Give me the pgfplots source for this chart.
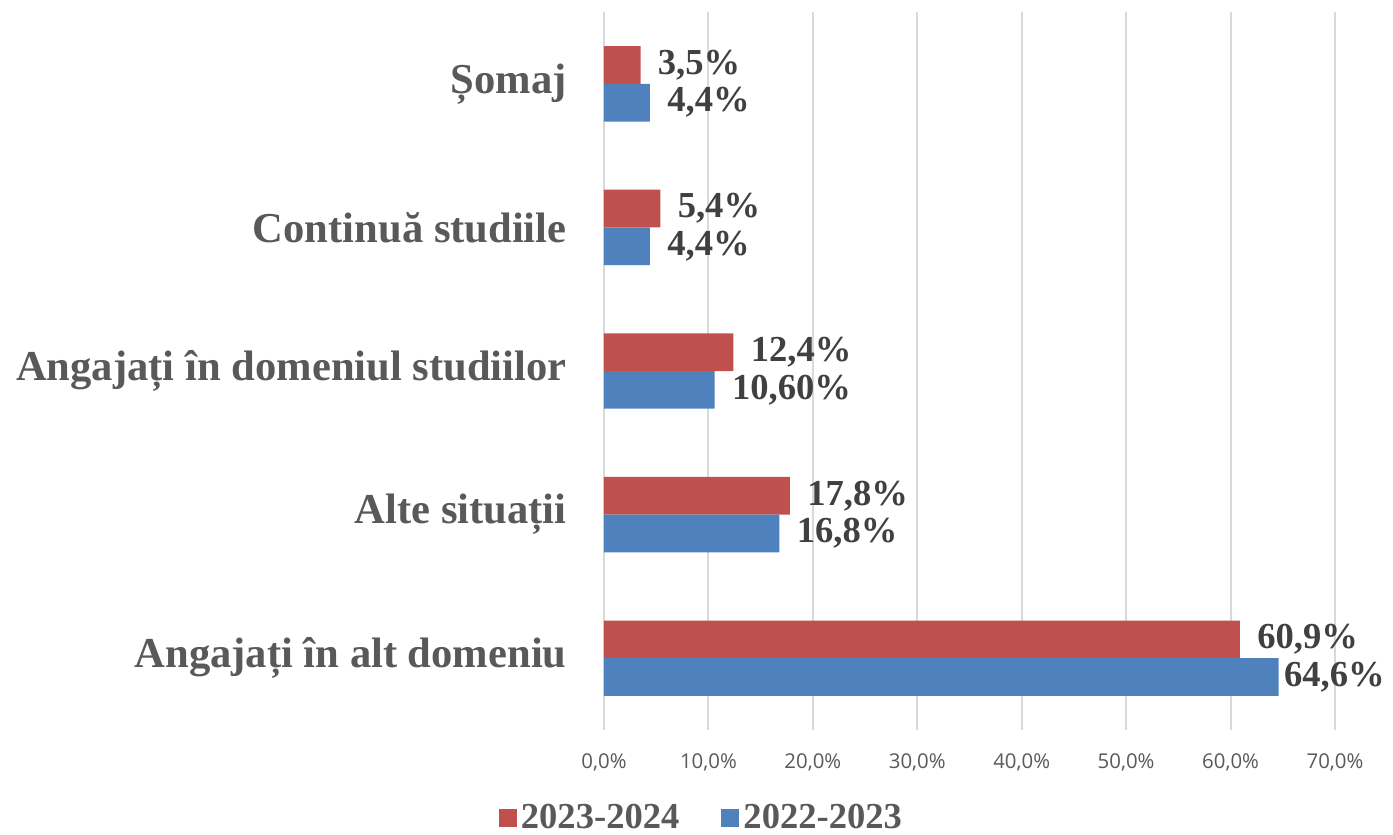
\documentclass[border=0pt]{standalone}
\usepackage{pgfplots}
\pgfplotsset{compat=1.18}
\usepackage{pgfplotstable}
\usepackage{fontspec}
\setmainfont{Liberation Serif}
\newfontfamily\tickfont{Open Sans}
\definecolor{cred}{HTML}{C0504D}
\definecolor{cblue}{HTML}{4F81BD}
\definecolor{gridc}{HTML}{D9D9D9}
\definecolor{lbl}{HTML}{404040}
\definecolor{cat}{HTML}{595959}

\pgfplotstableread{
y x dx label
0 60.9 8.5 60,9
1 17.8 8.5 17,8
2 12.4 8.5 12,4
3 5.4 8.5 5,4
4 3.5 8.5 3,5
}\redtable
\pgfplotstableread{
y x dx label
0 64.6 2.5 64,6
1 16.8 8.5 16,8
2 10.6 8.5 10,60
3 4.4 8.5 4,4
4 4.4 8.5 4,4
}\bluetable

\begin{document}
\begin{tikzpicture}
\path[use as bounding box] (-302pt,-52.5pt) rectangle (394.5pt,365pt);
\begin{axis}[
  at={(0pt,0pt)}, anchor=south west,
  scale only axis, width=365.5pt, height=359pt,
  xmin=0, xmax=70, ymin=-0.5, ymax=4.5,
  axis line style={draw=none},
  xmajorgrids, major grid style={gridc, line width=1pt},
  xtick={0,10,20,30,40,50,60,70},
  xticklabels={{0,0\%},{10,0\%},{20,0\%},{30,0\%},{40,0\%},{50,0\%},{60,0\%},{70,0\%}},
  ytick={0,1,2,3,4},
  yticklabels={Angajați în alt domeniu, Alte situații, Angajați în domeniul studiilor, Continuă studiile, Șomaj\hspace{0.25em}},
  major tick length=0pt,
  xticklabel style={font=\tickfont\fontsize{10.2pt}{12pt}\selectfont, text=cat, anchor=center, yshift=-16pt},
  yticklabel style={font=\fontsize{21.3pt}{25pt}\selectfont\bfseries, text=cat, anchor=east, inner sep=0pt, xshift=-18.5pt},
  clip=false,
  legend columns=2,
  legend style={at={(0.1347,-0.1226)}, anchor=center, draw=none, fill=none,
    font=\fontsize{18.3pt}{22pt}\selectfont\bfseries, text=cat,
    /tikz/every even column/.append style={column sep=19pt}},
  legend image code/.code={\fill[#1,draw=none] (0pt,-4.5pt) rectangle (9pt,4.5pt);},
]
\addplot[xbar, bar width=0.2625, bar shift=0.13125, fill=cred, draw=none,
  point meta=explicit symbolic,
  visualization depends on={\thisrow{dx} \as \dx},
  nodes near coords={\pgfplotspointmeta\%},
  nodes near coords style={anchor=west, inner sep=0pt, xshift=\dx pt, yshift=9.4pt, text=lbl,
    font=\fontsize{18.3pt}{22pt}\selectfont\bfseries}]
  table[x=x, y=y, meta=label] {\redtable};
\addlegendentry{2023-2024}
\addplot[xbar, bar width=0.2625, bar shift=-0.13125, fill=cblue, draw=none,
  point meta=explicit symbolic,
  visualization depends on={\thisrow{dx} \as \dx},
  nodes near coords={\pgfplotspointmeta\%},
  nodes near coords style={anchor=west, inner sep=0pt, xshift=\dx pt, yshift=-9.4pt, text=lbl,
    font=\fontsize{18.3pt}{22pt}\selectfont\bfseries}]
  table[x=x, y=y, meta=label] {\bluetable};
\addlegendentry{2022-2023}
\end{axis}
\end{tikzpicture}
\end{document}
